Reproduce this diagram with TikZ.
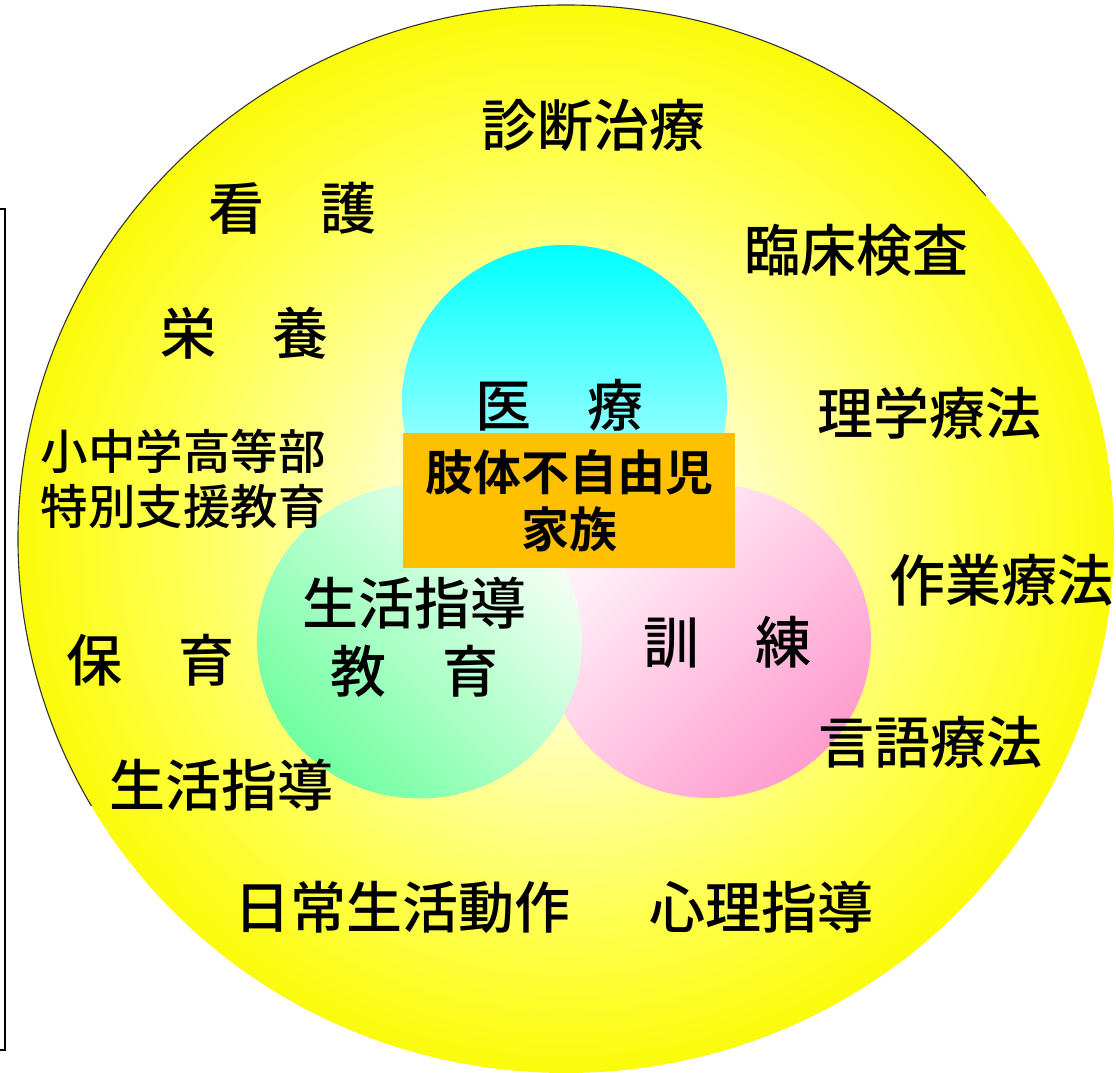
\documentclass[tikz,border=0pt]{standalone}
\usepackage{fontspec}
\setmainfont{Noto Sans CJK JP}[UprightFont={* Medium}, BoldFont={* Bold}]
\definecolor{glowA}{HTML}{FFFFF0}
\definecolor{glowB}{HTML}{FFFFC4}
\definecolor{glowC}{HTML}{FFFF50}
\definecolor{glowD}{HTML}{FAFA00}
\definecolor{cyanTop}{HTML}{00FFFF}
\definecolor{cyanBot}{HTML}{E8FFFF}
\definecolor{greenDeep}{HTML}{70FFA0}
\definecolor{greenPale}{HTML}{F6FFF6}
\definecolor{pinkDeep}{HTML}{FF9CCE}
\definecolor{pinkPale}{HTML}{FFF6FA}
\definecolor{coreOrange}{HTML}{FFC000}
\pgfdeclareradialshading{bigglow}{\pgfpoint{0bp}{0bp}}{color(0bp)=(glowA); color(8bp)=(glowB); color(18bp)=(glowC); color(26bp)=(glowD); color(50bp)=(glowD)}
\begin{document}
\begin{tikzpicture}[x=1pt,y=1pt,
  lbl/.style={inner sep=0pt, font=\fontsize{56}{60}\selectfont},
  sml/.style={inner sep=0pt, align=center, font=\fontsize{47.5}{55}\selectfont},
  twoline/.style={inner sep=0pt, align=center, font=\fontsize{56}{68}\selectfont},
  corebox/.style={fill=coreOrange, inner sep=0pt, minimum width=332pt, minimum height=135pt, align=center, font=\fontsize{48}{57}\selectfont\bfseries}]
\useasboundingbox (0,0) rectangle (1116,1073);
% big field
\shade[shading=bigglow] (566,534) ellipse [x radius=548, y radius=534];
\draw[line width=1.1pt, black!80] (566,534) ++(40:548 and 534) arc[start angle=40, end angle=210, x radius=548, y radius=534];
% bracket
\draw[line width=2pt] (0,863.5) -- (5,863.5) -- (5,23) -- (0,23);
% three circles
\shade[top color=cyanTop, bottom color=cyanBot] (564.5,671) ellipse [x radius=162.5, y radius=157];
\shade[top color=pinkPale, bottom color=pinkDeep, shading angle=45] (708.5,432) ellipse [x radius=162.5, y radius=157];
\shade[top color=greenPale, bottom color=greenDeep, shading angle=-45] (419.5,431.5) ellipse [x radius=162.5, y radius=157];
% centre box
\node[corebox] (core) at (569,572.5) {肢体不自由児\\家族};
% labels
\node[lbl] (iryo) at (559,668) {医　療};
\node[twoline] (kyoiku) at (414,436) {生活指導\\教　育};
\node[lbl] (kunren) at (727,430.5) {訓　練};
\node[lbl] (shindan) at (593,948) {診断治療};
\node[lbl] (kango) at (292,864.5) {看　護};
\node[lbl] (rinsho) at (856.5,823) {臨床検査};
\node[lbl] (eiyo) at (244,740) {栄　養};
\node[lbl] (rigaku) at (929,660) {理学療法};
\node[sml] (tokubetsu) at (183,594.3) {小中学高等部\\特別支援教育};
\node[lbl] (sagyo) at (1001,493) {作業療法};
\node[lbl] (hoiku) at (150,413) {保　育};
\node[lbl] (gengo) at (930,331) {言語療法};
\node[lbl] (seikatsu) at (221,288) {生活指導};
\node[lbl] (nichijo) at (402.5,166) {日常生活動作};
\node[lbl] (shinri) at (761,166) {心理指導};
\end{tikzpicture}
\end{document}
